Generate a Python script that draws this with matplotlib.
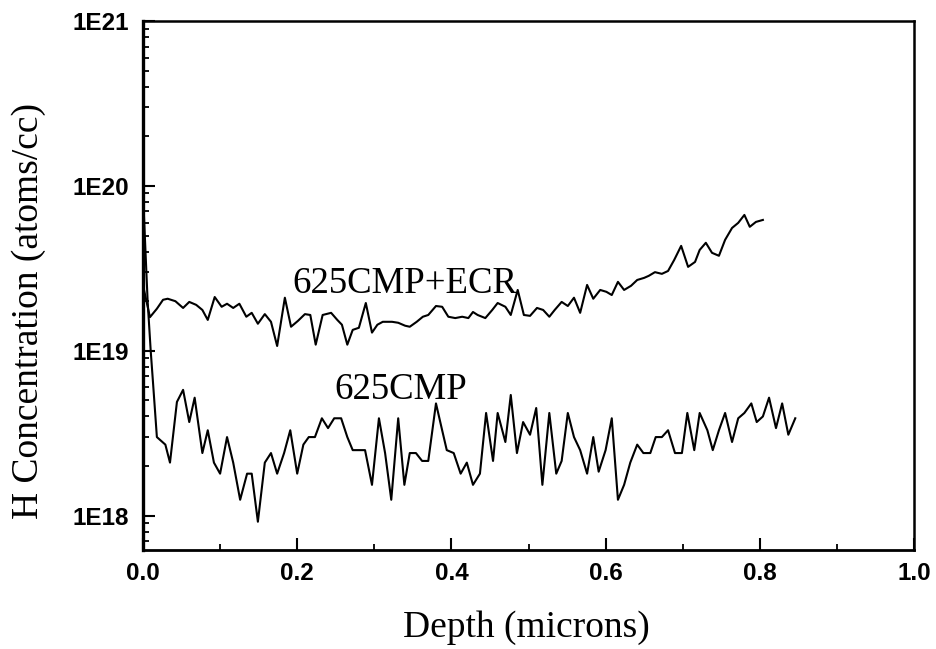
import matplotlib
matplotlib.use("Agg")
import matplotlib.pyplot as plt
from matplotlib.ticker import FixedLocator, LogLocator, NullFormatter, FuncFormatter, MultipleLocator

# SIMS hydrogen depth profiles
depth_cmp = [0.000, 0.006, 0.010, 0.013, 0.018, 0.029, 0.035, 0.044, 0.052, 0.060, 0.067,
             0.077, 0.084, 0.092, 0.100, 0.109, 0.117, 0.126, 0.135, 0.141, 0.149,
             0.158, 0.166, 0.174, 0.183, 0.191, 0.200, 0.208, 0.215, 0.223, 0.232,
             0.240, 0.248, 0.257, 0.265, 0.272, 0.280, 0.288, 0.297, 0.306, 0.314,
             0.322, 0.331, 0.339, 0.346, 0.354, 0.362, 0.370, 0.380, 0.388, 0.394,
             0.403, 0.412, 0.420, 0.428, 0.437, 0.445, 0.454, 0.460, 0.470, 0.477,
             0.485, 0.493, 0.502, 0.510, 0.518, 0.527, 0.536, 0.543, 0.551, 0.559,
             0.567, 0.576, 0.584, 0.591, 0.600, 0.608, 0.616, 0.624, 0.632, 0.641,
             0.649, 0.658, 0.665, 0.673, 0.681, 0.690, 0.699, 0.706, 0.715, 0.722,
             0.732, 0.739, 0.747, 0.755, 0.764, 0.772, 0.780, 0.789, 0.796, 0.804,
             0.812, 0.821, 0.829, 0.837, 0.846]
h_cmp = [9.0e19, 2.0e19, 1.0e19, 6.4e18, 3.0e18, 2.7e18, 2.1e18, 4.9e18, 5.8e18, 3.7e18, 5.2e18,
         2.4e18, 3.3e18, 2.1e18, 1.8e18, 3.0e18, 2.1e18, 1.25e18, 1.8e18, 1.8e18, 9.2e17,
         2.1e18, 2.4e18, 1.8e18, 2.4e18, 3.3e18, 1.8e18, 2.7e18, 3.0e18, 3.0e18, 3.9e18,
         3.4e18, 3.9e18, 3.9e18, 3.0e18, 2.5e18, 2.5e18, 2.5e18, 1.54e18, 3.9e18, 2.4e18,
         1.25e18, 3.9e18, 1.54e18, 2.4e18, 2.4e18, 2.15e18, 2.15e18, 4.8e18, 3.3e18, 2.5e18,
         2.4e18, 1.8e18, 2.1e18, 1.54e18, 1.8e18, 4.2e18, 2.15e18, 4.2e18, 2.8e18, 5.4e18,
         2.4e18, 3.7e18, 3.1e18, 4.5e18, 1.54e18, 4.2e18, 1.8e18, 2.15e18, 4.2e18, 3.0e18,
         2.5e18, 1.8e18, 3.0e18, 1.85e18, 2.5e18, 3.9e18, 1.25e18, 1.54e18, 2.1e18, 2.7e18,
         2.4e18, 2.4e18, 3.0e18, 3.0e18, 3.3e18, 2.4e18, 2.4e18, 4.2e18, 2.5e18, 4.2e18,
         3.3e18, 2.5e18, 3.3e18, 4.2e18, 2.8e18, 3.9e18, 4.2e18, 4.8e18, 3.7e18, 4.0e18,
         5.2e18, 3.4e18, 4.8e18, 3.1e18, 3.9e18]

depth_ecr = [0.000, 0.009, 0.018, 0.026, 0.032, 0.042, 0.052, 0.060, 0.069, 0.077,
             0.084, 0.093, 0.102, 0.109, 0.117, 0.125, 0.134, 0.141, 0.149, 0.158,
             0.166, 0.174, 0.184, 0.192, 0.201, 0.210, 0.217, 0.224, 0.233, 0.244,
             0.252, 0.258, 0.265, 0.272, 0.280, 0.289, 0.297, 0.304, 0.311, 0.323,
             0.331, 0.340, 0.346, 0.355, 0.363, 0.370, 0.380, 0.388, 0.396, 0.405,
             0.414, 0.422, 0.428, 0.434, 0.444, 0.453, 0.460, 0.470, 0.477, 0.486,
             0.494, 0.502, 0.511, 0.519, 0.527, 0.534, 0.543, 0.551, 0.559, 0.567,
             0.576, 0.584, 0.593, 0.601, 0.608, 0.616, 0.624, 0.633, 0.641, 0.650,
             0.656, 0.664, 0.673, 0.681, 0.689, 0.698, 0.707, 0.716, 0.722, 0.730,
             0.738, 0.747, 0.755, 0.764, 0.772, 0.780, 0.787, 0.795, 0.804]
h_ecr = [2.5e19, 1.6e19, 1.8e19, 2.04e19, 2.07e19, 2.0e19, 1.82e19, 1.98e19, 1.9e19, 1.77e19,
         1.54e19, 2.12e19, 1.85e19, 1.93e19, 1.82e19, 1.93e19, 1.61e19, 1.7e19, 1.46e19, 1.67e19,
         1.5e19, 1.07e19, 2.1e19, 1.4e19, 1.52e19, 1.67e19, 1.65e19, 1.09e19, 1.65e19, 1.7e19,
         1.54e19, 1.44e19, 1.09e19, 1.34e19, 1.38e19, 1.95e19, 1.29e19, 1.44e19, 1.5e19, 1.5e19,
         1.48e19, 1.42e19, 1.4e19, 1.5e19, 1.61e19, 1.65e19, 1.87e19, 1.85e19, 1.61e19, 1.58e19,
         1.61e19, 1.58e19, 1.72e19, 1.65e19, 1.58e19, 1.77e19, 1.95e19, 1.85e19, 1.65e19, 2.34e19,
         1.65e19, 1.63e19, 1.82e19, 1.77e19, 1.61e19, 1.77e19, 1.98e19, 1.87e19, 2.1e19, 1.7e19,
         2.51e19, 2.07e19, 2.34e19, 2.28e19, 2.18e19, 2.62e19, 2.34e19, 2.48e19, 2.69e19, 2.77e19,
         2.85e19, 3.0e19, 2.93e19, 3.05e19, 3.56e19, 4.33e19, 3.23e19, 3.46e19, 4.09e19, 4.52e19,
         3.93e19, 3.77e19, 4.71e19, 5.56e19, 5.97e19, 6.67e19, 5.65e19, 6.05e19, 6.22e19]

x_ticks = [0.0, 0.2, 0.4, 0.6, 0.8, 1.0]
y_ticks = [1e18, 1e19, 1e20, 1e21]
y_tick_labels = ["1E18", "1E19", "1E20", "1E21"]

serif = ["Liberation Serif", "DejaVu Serif"]
sans = ["Liberation Sans", "DejaVu Sans"]

fig = plt.figure(figsize=(9.37, 6.49), dpi=100)
ax = fig.add_axes([143 / 937, 1 - 550 / 649, (914 - 143) / 937, (550 - 21) / 649])

ax.plot(depth_ecr, h_ecr, color="black", lw=1.5)
ax.plot(depth_cmp, h_cmp, color="black", lw=1.5)

ax.set_yscale("log")
ax.set_xlim(0.0, 1.0)
ax.set_ylim(6.2e17, 1e21)

ax.xaxis.set_major_locator(FixedLocator(x_ticks))
ax.xaxis.set_minor_locator(MultipleLocator(0.1))
ax.xaxis.set_major_formatter(FuncFormatter(lambda v, p: f"{v:.1f}"))
ax.yaxis.set_major_locator(FixedLocator(y_ticks))
ax.yaxis.set_major_formatter(FuncFormatter(
    lambda v, p: y_tick_labels[y_ticks.index(v)] if v in y_ticks else ""))
ax.yaxis.set_minor_locator(LogLocator(base=10, subs=range(2, 10), numticks=20))
ax.yaxis.set_minor_formatter(NullFormatter())

ax.tick_params(which="major", direction="in", length=8.5, width=1.5,
               top=False, right=False)
ax.tick_params(which="minor", direction="in", length=4.5, width=1.3,
               top=False, right=False)
ax.tick_params(axis="x", which="major", pad=9)
ax.tick_params(axis="y", which="major", pad=10)

for lab in ax.get_xticklabels() + ax.get_yticklabels():
    lab.set_fontfamily(sans)
    lab.set_fontsize(17.5)
    lab.set_fontweight("bold")

for side, w in (("left", 2.4), ("bottom", 2.0), ("right", 1.8), ("top", 1.8)):
    ax.spines[side].set_linewidth(w)

fig.text(526 / 937, 1 - 628 / 649, "Depth (microns)", family=serif, fontsize=27,
         ha="center", va="center")
fig.text(29 / 937, 1 - 311 / 649, "H Concentration (atoms/cc)", family=serif,
         fontsize=27, rotation=90, ha="center", va="center")

ax.text(0.194, 2.25e19, "625CMP+ECR", family=serif, fontsize=26.5,
        ha="left", va="baseline")
ax.text(0.248, 5.1e18, "625CMP", family=serif, fontsize=26.5,
        ha="left", va="baseline")

fig.savefig("out.png", dpi=100)
